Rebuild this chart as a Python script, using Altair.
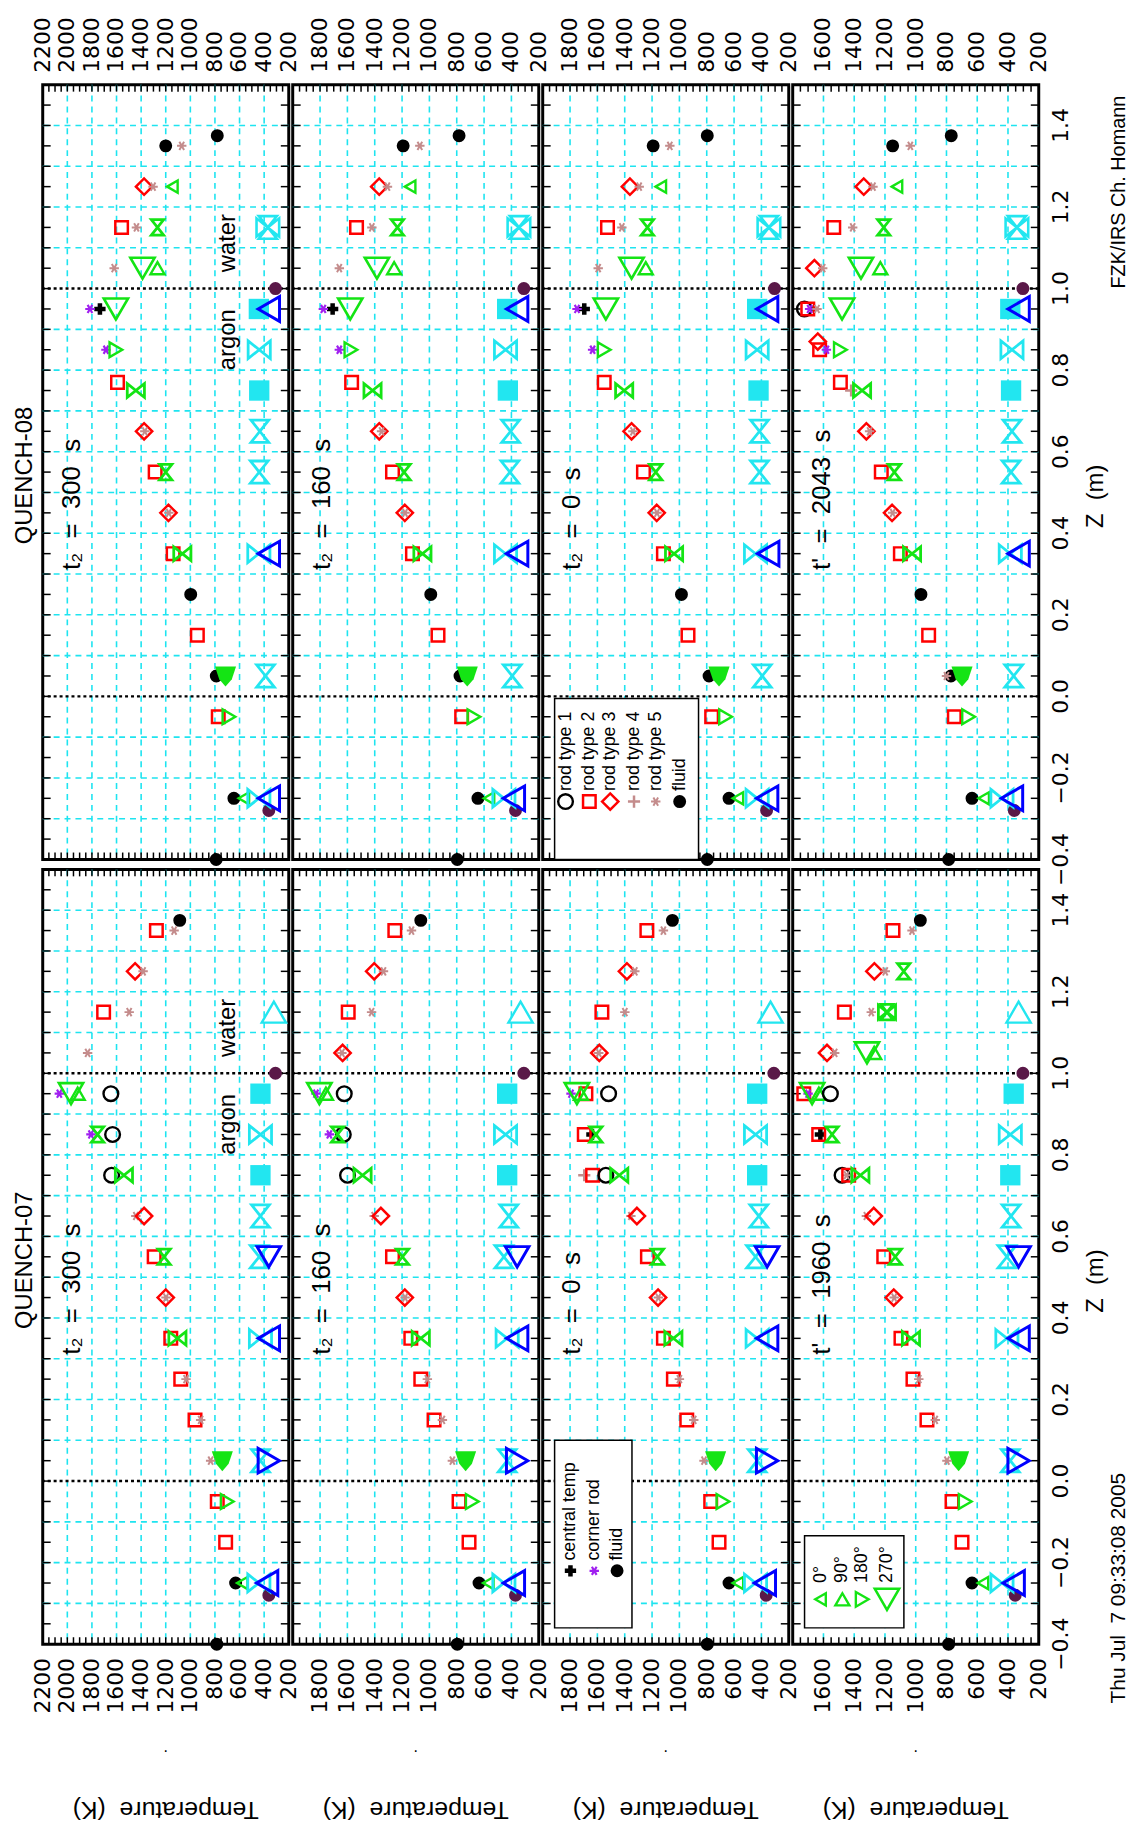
import altair as alt
import pandas as pd

FONT = "Liberation Sans"
TICK_FONT = "DejaVu Sans"
NB = "\u00a0"
W, H = 248, 781
Z_DOMAIN = [-0.4, 1.5]
T_MIN = 200
T_MAX = [2200, 2000, 2000, 1800]
T_LABELS = [
    [2200, 2000, 1800, 1600, 1400, 1200, 1000, 800, 600, 400, 200],
    [1800, 1600, 1400, 1200, 1000, 800, 600, 400, 200],
    [1800, 1600, 1400, 1200, 1000, 800, 600, 400, 200],
    [1600, 1400, 1200, 1000, 800, 600, 400, 200],
]
Z_LABELS = [-0.4, -0.2, 0.0, 0.2, 0.4, 0.6, 0.8, 1.0, 1.2, 1.4]
Z_GRID = [-0.3, -0.2, -0.1, 0.1, 0.2, 0.3, 0.4, 0.5, 0.6, 0.7, 0.8, 0.9, 1.1, 1.2, 1.3, 1.4]
Z_REF = [0.0, 1.0]

ROW_TITLES = ["QUENCH-08", "QUENCH-07"]
PANEL_LABELS = [
    ["t\u2082  =  300  s", "t\u2082  =  160  s", "t\u2082  =  0  s", "t'  =  2043  s"],
    ["t\u2082  =  300  s", "t\u2082  =  160  s", "t\u2082  =  0  s", "t'  =  1960  s"],
]
LABEL_T = [1958, 1782, 1782, 1606]
LABEL_Z = 0.31

# (z [m], T [K], symbol)
Q08_T300 = [
    (1.375, 781, "fl"), (1.35, 1200, "fl"), (1.35, 1070, "r5"),
    (1.25, 1376, "r3"), (1.25, 1303, "r5"), (1.25, 1146, "g0"),
    (1.15, 1559, "r2"), (1.15, 1438, "r5"), (1.15, 1267, "ghg"), (1.15, 370, "cst"),
    (1.05, 1619, "r5"), (1.05, 1389, "g270"), (1.05, 1267, "g90"),
    (1.0, 308, "wt"),
    (0.95, 1816, "cr"), (0.95, 1735, "ct"), (0.95, 1605, "g270"), (0.95, 443, "csq"), (0.95, 362, "bl"),
    (0.85, 1686, "cr"), (0.85, 1605, "g180"), (0.85, 440, "cbt"),
    (0.77, 1592, "r2"), (0.75, 1443, "gbt"), (0.75, 440, "csq"),
    (0.65, 1376, "r3"), (0.65, 1370, "r5"), (0.65, 435, "chg"),
    (0.55, 1286, "r2"), (0.55, 1200, "ghg"), (0.55, 440, "chg"),
    (0.45, 1178, "r3"), (0.45, 1175, "r5"),
    (0.35, 1140, "r2"), (0.35, 1065, "gbt"), (0.35, 443, "cbt"), (0.35, 362, "bl"),
    (0.25, 997, "fl"),
    (0.15, 943, "r2"),
    (0.05, 789, "fl"), (0.05, 714, "gm"), (0.05, 389, "chg"),
    (-0.05, 773, "r2"), (-0.05, 686, "g180"),
    (-0.25, 646, "fl"), (-0.25, 565, "g0"), (-0.25, 443, "cbt"), (-0.25, 362, "bl"),
    (-0.28, 362, "wt"),
    (-0.4, 790, "fl"),
]
Q08_T160 = [
    (1.375, 783, "fl"), (1.35, 1192, "fl"), (1.35, 1070, "r5"),
    (1.25, 1367, "r3"), (1.25, 1307, "r5"), (1.25, 1141, "g0"),
    (1.15, 1533, "r2"), (1.15, 1421, "r5"), (1.15, 1234, "ghg"), (1.15, 345, "cst"),
    (1.05, 1659, "r5"), (1.05, 1384, "g270"), (1.05, 1258, "g90"),
    (1.0, 309, "wt"),
    (0.95, 1776, "cr"), (0.95, 1708, "ct"), (0.95, 1579, "g270"), (0.95, 431, "csq"), (0.95, 358, "bl"),
    (0.85, 1659, "cr"), (0.85, 1574, "g180"), (0.85, 443, "cbt"),
    (0.77, 1569, "r2"), (0.75, 1416, "gbt"), (0.75, 426, "csq"),
    (0.65, 1367, "r3"), (0.65, 1350, "r5"), (0.65, 406, "chg"),
    (0.55, 1270, "r2"), (0.55, 1185, "ghg"), (0.55, 411, "chg"),
    (0.45, 1180, "r3"), (0.45, 1178, "r5"),
    (0.35, 1124, "r2"), (0.35, 1051, "gbt"), (0.35, 443, "cbt"), (0.35, 358, "bl"),
    (0.25, 990, "fl"),
    (0.15, 937, "r2"),
    (0.05, 776, "fl"), (0.05, 723, "gm"), (0.05, 394, "chg"),
    (-0.05, 764, "r2"), (-0.05, 674, "g180"),
    (-0.25, 645, "fl"), (-0.25, 564, "g0"), (-0.25, 455, "cbt"), (-0.25, 382, "bl"),
    (-0.28, 370, "wt"),
    (-0.4, 796, "fl"),
]
Q08_T0 = [
    (1.375, 796, "fl"), (1.35, 1192, "fl"), (1.35, 1070, "r5"),
    (1.25, 1362, "r3"), (1.25, 1294, "r5"), (1.25, 1136, "g0"),
    (1.15, 1526, "r2"), (1.15, 1421, "r5"), (1.15, 1234, "ghg"), (1.15, 345, "cst"),
    (1.05, 1594, "r5"), (1.05, 1350, "g270"), (1.05, 1246, "g90"),
    (1.0, 304, "wt"),
    (0.95, 1749, "cr"), (0.95, 1696, "ct"), (0.95, 1538, "g270"), (0.95, 431, "csq"), (0.95, 358, "bl"),
    (0.85, 1635, "cr"), (0.85, 1550, "g180"), (0.85, 431, "cbt"),
    (0.77, 1550, "r2"), (0.75, 1404, "gbt"), (0.75, 421, "csq"),
    (0.65, 1350, "r3"), (0.65, 1340, "r5"), (0.65, 414, "chg"),
    (0.55, 1263, "r2"), (0.55, 1173, "ghg"), (0.55, 414, "chg"),
    (0.45, 1166, "r3"), (0.45, 1164, "r5"),
    (0.35, 1117, "r2"), (0.35, 1039, "gbt"), (0.35, 443, "cbt"), (0.35, 350, "bl"),
    (0.25, 985, "fl"),
    (0.15, 937, "r2"),
    (0.05, 783, "fl"), (0.05, 710, "gm"), (0.05, 394, "chg"),
    (-0.05, 764, "r2"), (-0.05, 662, "g180"),
    (-0.25, 637, "fl"), (-0.25, 572, "g0"), (-0.25, 431, "cbt"), (-0.25, 358, "bl"),
    (-0.28, 362, "wt"),
    (-0.4, 796, "fl"),
]
Q08_T2043 = [
    (1.375, 769, "fl"), (1.35, 1150, "fl"), (1.35, 1035, "r5"),
    (1.25, 1338, "r3"), (1.25, 1278, "r5"), (1.25, 1122, "g0"),
    (1.15, 1533, "r2"), (1.15, 1410, "r5"), (1.15, 1208, "ghg"), (1.15, 342, "cst"),
    (1.05, 1659, "r3"), (1.05, 1605, "r5"), (1.05, 1356, "g270"), (1.05, 1230, "g90"),
    (1.0, 303, "wt"),
    (0.95, 1724, "r1"), (0.95, 1702, "r2"), (0.95, 1690, "cr"), (0.95, 1642, "r5"), (0.95, 1479, "g270"),
    (0.95, 385, "csq"), (0.95, 331, "bl"),
    (0.87, 1637, "r3"), (0.85, 1625, "r2"), (0.85, 1581, "cr"), (0.85, 1490, "g180"), (0.85, 374, "cbt"),
    (0.77, 1490, "r2"), (0.75, 1420, "r4"), (0.75, 1349, "gbt"), (0.75, 380, "csq"),
    (0.65, 1321, "r3"), (0.65, 1300, "r5"), (0.65, 374, "chg"),
    (0.55, 1224, "r2"), (0.55, 1139, "ghg"), (0.55, 380, "chg"),
    (0.45, 1154, "r3"), (0.45, 1150, "r5"),
    (0.35, 1100, "r2"), (0.35, 1024, "gbt"), (0.35, 385, "cbt"), (0.35, 331, "bl"),
    (0.25, 966, "fl"),
    (0.15, 916, "r2"),
    (0.05, 800, "r5"), (0.05, 771, "fl"), (0.05, 699, "gm"), (0.05, 363, "chg"),
    (-0.05, 749, "r2"), (-0.05, 656, "g180"),
    (-0.25, 634, "fl"), (-0.25, 558, "g0"), (-0.25, 439, "cbt"), (-0.25, 374, "bl"),
    (-0.28, 359, "wt"),
    (-0.4, 786, "fl"),
]
Q07_T300 = [
    (1.375, 1086, "fl"), (1.35, 1132, "r5"), (1.35, 1276, "r2"),
    (1.25, 1449, "r3"), (1.25, 1384, "r5"),
    (1.15, 1705, "r2"), (1.15, 1497, "r5"), (1.15, 321, "ctu"),
    (1.05, 1835, "r5"),
    (1.0, 308, "wt"),
    (0.95, 2065, "cr"), (0.95, 1970, "g270"), (0.95, 1916, "g90"), (0.95, 1646, "r1"), (0.95, 430, "csq"),
    (0.85, 1808, "cr"), (0.85, 1754, "ghg"), (0.85, 1632, "r1"), (0.85, 430, "cbt"),
    (0.75, 1640, "r1"), (0.75, 1540, "gbt"), (0.75, 430, "csq"),
    (0.65, 1443, "r5"), (0.65, 1376, "r3"), (0.65, 430, "chg"),
    (0.55, 1294, "r2"), (0.55, 1213, "ghg"), (0.55, 440, "chg"), (0.55, 362, "bd"),
    (0.45, 1200, "r3"), (0.45, 1198, "r5"),
    (0.35, 1159, "r2"), (0.35, 1105, "gbt"), (0.35, 430, "cbt"), (0.35, 362, "bl"),
    (0.25, 1078, "r2"), (0.25, 1035, "r5"),
    (0.15, 962, "r2"), (0.15, 916, "r5"),
    (0.05, 835, "r5"), (0.05, 740, "gm"), (0.05, 430, "chg"), (0.05, 362, "br"),
    (-0.05, 781, "r2"), (-0.05, 700, "g180"),
    (-0.15, 713, "r2"),
    (-0.25, 632, "fl"), (-0.25, 578, "g0"), (-0.25, 443, "cbt"), (-0.25, 376, "bl"),
    (-0.28, 362, "wt"),
    (-0.4, 785, "fl"),
]
Q07_T160 = [
    (1.375, 1063, "fl"), (1.35, 1253, "r2"), (1.35, 1131, "r5"),
    (1.25, 1404, "r3"), (1.25, 1336, "r5"),
    (1.15, 1594, "r2"), (1.15, 1423, "r5"), (1.15, 333, "ctu"),
    (1.05, 1635, "r3"), (1.05, 1640, "r5"),
    (1.0, 309, "wt"),
    (0.95, 1830, "cr"), (0.95, 1805, "g270"), (0.95, 1757, "g90"), (0.95, 1623, "r1"), (0.95, 431, "csq"),
    (0.85, 1732, "cr"), (0.85, 1630, "r1"), (0.85, 1672, "ghg"), (0.85, 443, "cbt"),
    (0.75, 1599, "r1"), (0.75, 1489, "gbt"), (0.75, 431, "csq"),
    (0.65, 1404, "r5"), (0.65, 1355, "r3"), (0.65, 419, "chg"),
    (0.55, 1270, "r2"), (0.55, 1197, "ghg"), (0.55, 455, "chg"), (0.55, 358, "bd"),
    (0.45, 1180, "r3"), (0.45, 1178, "r5"),
    (0.35, 1136, "r2"), (0.35, 1063, "gbt"), (0.35, 431, "cbt"), (0.35, 358, "bl"),
    (0.25, 1063, "r2"), (0.25, 1015, "r5"),
    (0.15, 966, "r2"), (0.15, 905, "r5"),
    (0.05, 832, "r5"), (0.05, 735, "gm"), (0.05, 431, "chg"), (0.05, 358, "br"),
    (-0.05, 783, "r2"), (-0.05, 686, "g180"),
    (-0.15, 710, "r2"),
    (-0.25, 637, "fl"), (-0.25, 569, "g0"), (-0.25, 455, "cbt"), (-0.25, 382, "bl"),
    (-0.28, 370, "wt"),
    (-0.4, 796, "fl"),
]
Q07_T0 = [
    (1.375, 1051, "fl"), (1.35, 1238, "r2"), (1.35, 1117, "r5"),
    (1.25, 1384, "r3"), (1.25, 1326, "r5"),
    (1.15, 1567, "r2"), (1.15, 1399, "r5"), (1.15, 333, "ctu"),
    (1.05, 1586, "r3"), (1.05, 1590, "r5"),
    (1.0, 309, "wt"),
    (0.95, 1793, "cr"), (0.95, 1684, "r2"), (0.95, 1750, "g270"), (0.95, 1720, "g90"), (0.95, 1518, "r1"),
    (0.95, 431, "csq"),
    (0.85, 1696, "r2"), (0.85, 1640, "ct"), (0.85, 1611, "ghg"), (0.85, 443, "cbt"),
    (0.75, 1696, "r4"), (0.75, 1635, "r2"), (0.75, 1538, "r1"), (0.75, 1440, "gbt"), (0.75, 431, "csq"),
    (0.65, 1355, "r5"), (0.65, 1311, "r3"), (0.65, 419, "chg"),
    (0.55, 1234, "r2"), (0.55, 1161, "ghg"), (0.55, 443, "chg"), (0.55, 358, "bd"),
    (0.45, 1156, "r3"), (0.45, 1154, "r5"),
    (0.35, 1117, "r2"), (0.35, 1044, "gbt"), (0.35, 431, "cbt"), (0.35, 358, "bl"),
    (0.25, 1044, "r2"), (0.25, 1000, "r5"),
    (0.15, 946, "r2"), (0.15, 895, "r5"),
    (0.05, 820, "r5"), (0.05, 735, "gm"), (0.05, 431, "chg"), (0.05, 358, "br"),
    (-0.05, 771, "r2"), (-0.05, 681, "g180"),
    (-0.15, 710, "r2"),
    (-0.25, 637, "fl"), (-0.25, 572, "g0"), (-0.25, 443, "cbt"), (-0.25, 375, "bl"),
    (-0.28, 365, "wt"),
    (-0.4, 796, "fl"),
]
Q07_T1960 = [
    (1.375, 970, "fl"), (1.35, 1148, "r2"), (1.35, 1024, "r5"),
    (1.25, 1269, "r3"), (1.25, 1198, "r5"), (1.25, 1078, "ghg"),
    (1.15, 1464, "r2"), (1.15, 1289, "r5"), (1.15, 1187, "ghg"), (1.15, 1187, "gbt"), (1.15, 331, "ctu"),
    (1.05, 1577, "r3"), (1.05, 1527, "r5"), (1.05, 1317, "g270"), (1.05, 1270, "g90"),
    (1.0, 303, "wt"),
    (0.95, 1728, "r2"), (0.95, 1700, "cr"), (0.95, 1674, "g270"), (0.95, 1630, "g90"), (0.95, 1555, "r1"),
    (0.95, 363, "csq"),
    (0.85, 1631, "r2"), (0.85, 1620, "ct"), (0.85, 1544, "ghg"), (0.85, 385, "cbt"),
    (0.75, 1479, "r1"), (0.75, 1450, "r5"), (0.75, 1436, "r2"), (0.75, 1360, "gbt"), (0.75, 385, "csq"),
    (0.65, 1321, "r5"), (0.65, 1273, "r3"), (0.65, 380, "chg"),
    (0.55, 1208, "r2"), (0.55, 1133, "ghg"), (0.55, 407, "chg"), (0.55, 331, "bd"),
    (0.45, 1143, "r3"), (0.45, 1140, "r5"),
    (0.35, 1096, "r2"), (0.35, 1031, "gbt"), (0.35, 407, "cbt"), (0.35, 331, "bl"),
    (0.25, 1018, "r2"), (0.25, 980, "r5"),
    (0.15, 927, "r2"), (0.15, 873, "r5"),
    (0.05, 797, "r5"), (0.05, 721, "gm"), (0.05, 385, "chg"), (0.05, 331, "br"),
    (-0.05, 764, "r2"), (-0.05, 678, "g180"),
    (-0.15, 699, "r2"),
    (-0.25, 634, "fl"), (-0.25, 563, "g0"), (-0.25, 439, "cbt"), (-0.25, 363, "bl"),
    (-0.28, 353, "wt"),
    (-0.4, 786, "fl"),
]
PANELS = [
    [Q08_T300, Q08_T160, Q08_T0, Q08_T2043],
    [Q07_T300, Q07_T160, Q07_T0, Q07_T1960],
]

LEGENDS = {
    (0, 2): dict(box=(1913, 860, -0.4, -0.005),
                 items=[(1833, "r1", "rod type 1"), (1659, "r2", "rod type 2"), (1506, "r3", "rod type 3"),
                        (1332, "r4", "rod type 4"), (1173, "r5", "rod type 5"), (998, "fl", "fluid")],
                 zsym=-0.258, ztext=-0.232),
    (1, 2): dict(box=(1913, 1347, -0.36, 0.10),
                 items=[(1797, "ct", "central temp"), (1623, "cr", "corner rod"), (1456, "fl", "fluid")],
                 zsym=-0.22, ztext=-0.195),
    (1, 3): dict(box=(1723, 1077, -0.36, -0.134),
                 items=[(1619, "g0", "0\u00b0"), (1477, "g90", "90\u00b0"), (1348, "g180", "180\u00b0"),
                        (1187, "g270", "270\u00b0")],
                 zsym=-0.29, ztext=-0.25),
}
MEDIUM_LABELS = [(692, 0.80, "argon"), (692, 1.04, "water")]

G = "#14e414"
C = "#22e6f0"
B = "#0000ff"
RED = "#ff0000"
ROSY = "#c48c8c"
PURPLE = "#a020f0"
WATER = "#5a1848"
GRIDC = "#1ee4f0"

ASTER = "M-1,0L1,0M-0.5,-0.87L0.5,0.87M-0.5,0.87L0.5,-0.87"
PLUS = "M-1,0L1,0M0,-1L0,1"
HOURGLASS = "M-0.8,-1L0.8,-1L0,0L0.8,1L-0.8,1L0,0Z"
BOWTIE = "M-1,-0.8L0,0L-1,0.8ZM1,-0.8L0,0L1,0.8Z"
STAR = "M-0.8,-1L0.8,-1L0,0ZM-0.8,1L0.8,1L0,0ZM-1,-0.8L-1,0.8L0,0ZM1,-0.8L1,0.8L0,0Z"
MASS = "M-1,-0.9L1,-0.9L0.6,0.3L0,1L-0.6,0.3Z"

STYLE = {
    "r1": ("circle", "#000000", 220, False, 2.4),
    "r2": ("square", RED, 160, False, 2.5),
    "r3": ("diamond", RED, 270, False, 2.5),
    "r4": (PLUS, ROSY, 150, False, 2.5),
    "r5": (ASTER, ROSY, 90, False, 2),
    "fl": ("circle", "#000000", 170, True, 0),
    "ct": ("cross", "#000000", 130, True, 0),
    "cr": (ASTER, PURPLE, 90, False, 2.2),
    "wt": ("circle", WATER, 170, True, 0),
    "g0": ("triangle-left", G, 150, False, 2.4),
    "g90": ("triangle-up", G, 200, False, 2.4),
    "g180": ("triangle-right", G, 220, False, 2.4),
    "g270": ("triangle-down", G, 600, False, 2.6),
    "ghg": (HOURGLASS, G, 240, False, 2.8),
    "gbt": (BOWTIE, G, 300, False, 2.8),
    "gm": (MASS, G, 450, True, 0),
    "cbt": (BOWTIE, C, 500, False, 2.8),
    "chg": (HOURGLASS, C, 500, False, 2.8),
    "csq": ("square", C, 420, True, 0),
    "cst": (STAR, C, 520, False, 2.6),
    "ctu": ("triangle-up", C, 600, False, 2.4),
    "bl": ("triangle-left", B, 620, False, 3),
    "bd": ("triangle-down", B, 560, False, 3),
    "br": ("triangle-right", B, 620, False, 3),
}


def nb(s):
    # keep repeated spaces visible in SVG text
    return s.replace("  ", NB + NB)


def styled(rows):
    df = pd.DataFrame(rows, columns=["z", "T", "sym"])
    df["shape"] = [STYLE[s][0] for s in df["sym"]]
    df["color"] = [STYLE[s][1] for s in df["sym"]]
    df["size"] = [STYLE[s][2] for s in df["sym"]]
    df["filled"] = [STYLE[s][3] for s in df["sym"]]
    df["sw"] = [STYLE[s][4] for s in df["sym"]]
    return df


def zfmt(v):
    return f"{v:.1f}".replace("-", "\u2212")


def make_panel(row, col):
    tmax = T_MAX[col]
    xs = alt.Scale(domain=[T_MIN, tmax], reverse=True, nice=False, zero=False)
    ys = alt.Scale(domain=Z_DOMAIN, nice=False, zero=False)

    def X(field="T"):
        return alt.X(f"{field}:Q", scale=xs, axis=None)

    def Y(field="z"):
        return alt.Y(f"{field}:Q", scale=ys, axis=None)

    def points(rows):
        df = styled(rows)
        enc = dict(x=X(), y=Y(),
                   shape=alt.Shape("shape:N", scale=None),
                   color=alt.Color("color:N", scale=None),
                   size=alt.Size("size:Q", scale=None))
        out = []
        fi = df[df["filled"]]
        op = df[~df["filled"]]
        if len(fi):
            out.append(alt.Chart(fi).mark_point(filled=True, opacity=1).encode(**enc))
        if len(op):
            out.append(alt.Chart(op).mark_point(filled=False, opacity=1).encode(
                strokeWidth=alt.StrokeWidth("sw:Q", scale=None), **enc))
        return out

    def text(df, size, font=FONT, **kw):
        return alt.Chart(df).mark_text(font=font, fontSize=size, color="black", **kw)

    t_grid = list(range(T_MIN + 200, tmax, 200))
    t_ticks = list(range(T_MIN + 50, tmax, 50))
    z_ticks = [round(-0.35 + 0.05 * i, 2) for i in range(37)]

    dash = dict(color=GRIDC, strokeDash=[6, 5], strokeWidth=1.6)
    layers = [
        alt.Chart(pd.DataFrame({"T": t_grid})).mark_rule(**dash).encode(x=X()),
        alt.Chart(pd.DataFrame({"z": Z_GRID})).mark_rule(**dash).encode(y=Y()),
        alt.Chart(pd.DataFrame({"z": Z_REF})).mark_rule(color="black", strokeDash=[3, 3], strokeWidth=2.5).encode(y=Y()),
    ]
    tick = dict(color="black", strokeWidth=1.5)
    zt = pd.DataFrame({"z": z_ticks})
    tt = pd.DataFrame({"T": t_ticks})
    layers += [
        alt.Chart(zt).mark_rule(**tick).encode(y=Y(), x=alt.value(0), x2=alt.value(8)),
        alt.Chart(zt).mark_rule(**tick).encode(y=Y(), x=alt.value(W - 8), x2=alt.value(W)),
        alt.Chart(tt).mark_rule(**tick).encode(x=X(), y=alt.value(0), y2=alt.value(7)),
        alt.Chart(tt).mark_rule(**tick).encode(x=X(), y=alt.value(H - 7), y2=alt.value(H)),
    ]

    # temperature tick labels
    tl = pd.DataFrame({"T": T_LABELS[col], "text": [str(v) for v in T_LABELS[col]]})
    if row == 0:
        layers.append(text(tl, 22, TICK_FONT, angle=270, align="left", baseline="middle").encode(
            x=X(), y=alt.value(-12), text="text:N"))
    else:
        layers.append(text(tl, 22, TICK_FONT, angle=270, align="right", baseline="middle").encode(
            x=X(), y=alt.value(H + 14), text="text:N"))
        layers.append(text(pd.DataFrame({"text": [nb("Temperature  (K)")]}), 25, angle=180,
                           align="center", baseline="middle").encode(
            x=alt.value(W / 2), y=alt.value(H + 167), text="text:N"))
        layers.append(text(pd.DataFrame({"text": ["."]}), 16, align="center", baseline="alphabetic").encode(
            x=alt.value(W / 2), y=alt.value(H + 109), text="text:N"))
    # z tick labels
    if col == 3:
        zl = pd.DataFrame({"z": Z_LABELS, "text": [zfmt(v) for v in Z_LABELS]})
        layers.append(text(zl, 22, TICK_FONT, angle=270, align="center", baseline="top").encode(
            x=alt.value(W + 12), y=Y(), text="text:N"))
        layers.append(text(pd.DataFrame({"text": [nb("Z  (m)")]}), 24, angle=270, align="center",
                           baseline="middle").encode(x=alt.value(W + 58), y=alt.value(415), text="text:N"))

    leg = LEGENDS.get((row, col))
    if leg:
        t1, t2, z1, z2 = leg["box"]
        layers.append(alt.Chart(pd.DataFrame({"T": [t1], "T2": [t2], "z": [z1], "z2": [z2]})).mark_rect(
            fill="white", stroke="black", strokeWidth=1.5).encode(
            x=X(), x2="T2:Q", y=Y(), y2="z2:Q"))
        layers += points([(leg["zsym"], t, s) for t, s, _ in leg["items"]])
        layers.append(text(pd.DataFrame({"T": [t for t, _, _ in leg["items"]],
                                         "z": [leg["ztext"]] * len(leg["items"]),
                                         "text": [x for _, _, x in leg["items"]]}), 18,
                           angle=270, align="left", baseline="middle").encode(
            x=X(), y=Y(), text="text:N"))

    layers += points(PANELS[row][col])

    layers.append(text(pd.DataFrame({"T": [LABEL_T[col]], "z": [LABEL_Z],
                                     "text": [nb(PANEL_LABELS[row][col])]}), 26, angle=270,
                       align="left", baseline="middle").encode(x=X(), y=Y(), text="text:N"))
    if col == 0:
        layers.append(text(pd.DataFrame(MEDIUM_LABELS, columns=["T", "z", "text"]), 24, angle=270,
                           align="left", baseline="middle").encode(x=X(), y=Y(), text="text:N"))
        layers.append(text(pd.DataFrame({"text": [ROW_TITLES[row]]}), 24, angle=270,
                           align="center", baseline="middle").encode(
            x=alt.value(-18), y=alt.value(394), text="text:N"))
    if col == 3 and row == 0:
        layers.append(text(pd.DataFrame({"z": [1.0], "text": ["FZK/IRS Ch. Homann"]}), 20, angle=270,
                           align="left", baseline="middle").encode(x=alt.value(329), y=Y(), text="text:N"))
    if col == 3 and row == 1:
        layers.append(text(pd.DataFrame({"z": [0.02], "text": [nb("Thu Jul  7 09:33:08 2005")]}), 21,
                           angle=270, align="right", baseline="middle").encode(
            x=alt.value(329), y=Y(), text="text:N"))

    return alt.layer(*layers).properties(width=W, height=H)


panels = [make_panel(r, c) for r in range(2) for c in range(4)]
chart = alt.concat(*panels, columns=4, spacing={"row": 10, "column": 4}, bounds="flush").properties(
    padding={"left": 3, "top": 0, "right": 0, "bottom": 0},
    background="white",
).configure_view(stroke="black", strokeWidth=3)

chart.save("out.html", embed_options={"renderer": "svg", "actions": False})
